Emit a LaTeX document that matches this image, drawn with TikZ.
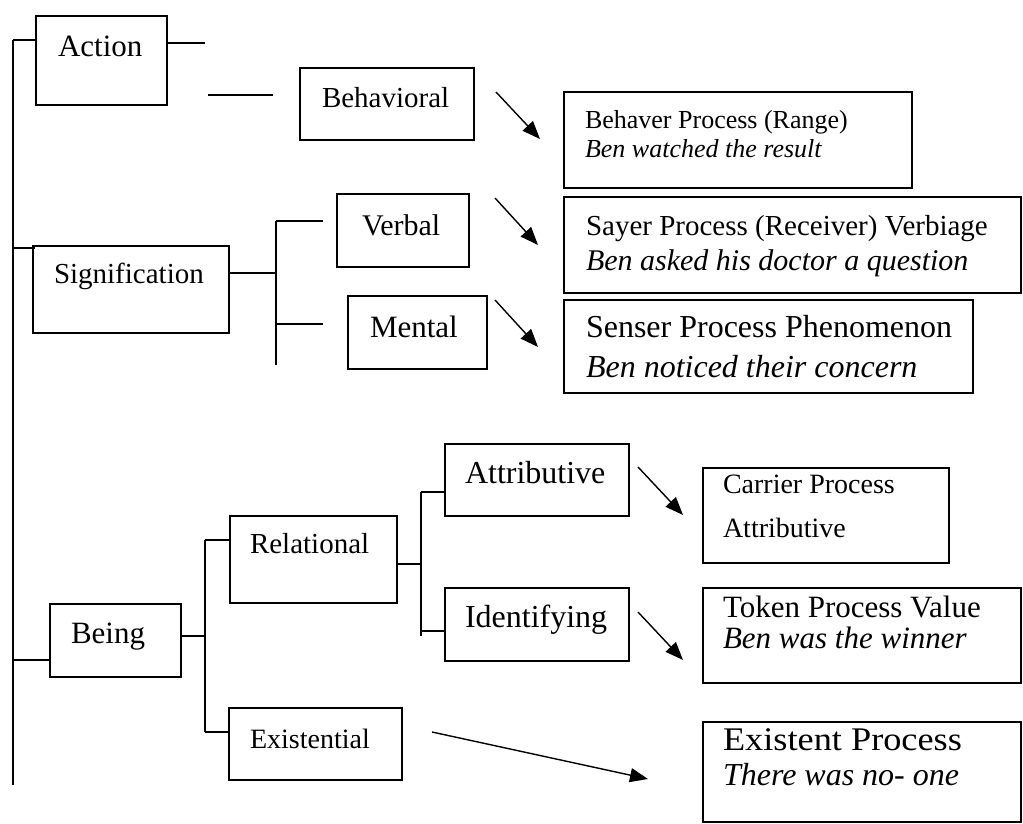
\documentclass[tikz,border=0pt]{standalone}
\usepackage{fontspec}
\setmainfont{Liberation Serif}
\usetikzlibrary{arrows.meta,fit}

\tikzset{
  box/.style={draw, line width=1.3pt, inner sep=0pt, outer sep=0pt},
  lbl/.style={anchor=base west, inner sep=0pt, outer sep=0pt},
  link/.style={line width=1.3pt},
  pointer/.style={line width=1.4pt, -{Triangle[length=18pt,width=14pt]}},
}
% a framed box from its top-left to its bottom-right corner
\newcommand\procbox[5]{\node[box, fit={(#2,#3) (#4,#5)}] (#1) {};}
\newcommand\fs[1]{\fontsize{#1}{#1}\selectfont}

\begin{document}
\begin{tikzpicture}[x=1pt, y=-1pt]
\useasboundingbox (0,0) rectangle (1023,824);
\clip (0,0) rectangle (1023,824);

% ---- boxes
\procbox{action}{36}{16}{167}{105}
\procbox{behavioral}{300}{68}{474}{140}
\procbox{behaver}{564}{92}{912}{188}
\procbox{verbal}{337}{194}{469}{267}
\procbox{sayer}{564}{197}{1021}{293}
\procbox{signif}{33}{246}{229}{333}
\procbox{mental}{348}{296}{487}{369}
\procbox{senser}{564}{300}{973}{393}
\procbox{attrib}{445}{444}{629}{516}
\procbox{carrier}{703}{468}{949}{563}
\procbox{relational}{230}{516}{397}{603}
\procbox{ident}{445}{588}{629}{661}
\procbox{token}{703}{588}{1021}{683}
\procbox{being}{50}{604}{181}{677}
\procbox{existential}{229}{708}{402}{780}
\procbox{existent}{703}{722}{1021}{822}

% ---- texts
\node[lbl, font=\fs{31}] (actionT) at (58,57) {Action};
\node[lbl, font=\fs{29}] (behavioralT) at (322,108) {Behavioral};
\node[lbl, font=\fs{26}] (behaverT) at (585,129) {Behaver Process (Range)};
\node[lbl, font=\fs{26}\itshape] (behaverE) at (585,158) {Ben watched the result};
\node[lbl, font=\fs{30}] (verbalT) at (362,235) {Verbal};
\node[lbl, font=\fs{29}] (sayerT) at (586,235) {Sayer Process (Receiver) Verbiage};
\node[lbl, font=\fs{30}\itshape] (sayerE) at (586,270) {Ben asked his doctor a question};
\node[lbl, font=\fs{29}] (signifT) at (54,283) {Signification};
\node[lbl, font=\fs{31}] (mentalT) at (370,337) {Mental};
\node[lbl, font=\fs{32}] (senserT) at (586,337) {Senser Process Phenomenon};
\node[lbl, font=\fs{32}\itshape] (senserE) at (586,377) {Ben noticed their concern};
\node[lbl, font=\fs{32}] (attribT) at (465,483) {Attributive};
\node[lbl, font=\fs{28}] (carrierT) at (723,493) {Carrier Process};
\node[lbl, font=\fs{28}] (carrierE) at (723,537) {Attributive};
\node[lbl, font=\fs{29}] (relationalT) at (250,553) {Relational};
\node[lbl, font=\fs{32}] (identT) at (465,627) {Identifying};
\node[lbl, font=\fs{31}] (tokenT) at (723,617) {Token Process Value};
\node[lbl, font=\fs{31}\itshape] (tokenE) at (723,648) {Ben was the winner};
\node[lbl, font=\fs{31}] (beingT) at (71,643) {Being};
\node[lbl, font=\fs{28}] (existentialT) at (250,748) {Existential};
\node[lbl, font=\fs{33}, xscale=1.1] (existentT) at (723,750) {Existent Process};
\node[lbl, font=\fs{32}\itshape] (existentE) at (723,785) {There was no- one};

% ---- tree lines
\coordinate (trunkTop) at (13,40);
\coordinate (trunkEnd) at (13,785);
\draw[link] (trunkTop) -- (trunkEnd);
\draw[link] (trunkTop) -- (trunkTop -| action.west);
\coordinate (tieSig) at (13,248);
\draw[link] (tieSig) -- ([xshift=2pt]tieSig -| signif.west);
\coordinate (tieBeing) at (13,660);
\draw[link] (tieBeing) -- (tieBeing -| being.west);

\coordinate (stubA) at (205,43);
\draw[link] (stubA -| action.east) -- (stubA);
\coordinate (stubB1) at (208,95);
\coordinate (stubB2) at (273,95);
\draw[link] (stubB1) -- (stubB2);

% signification branch
\coordinate (sigFork) at (276,273);
\coordinate (sigTop) at (276,221);
\coordinate (sigBot) at (276,365);
\coordinate (sigV) at (323,221);
\coordinate (sigM) at (323,324);
\draw[link] (sigFork -| signif.east) -- (sigFork);
\draw[link] (sigTop) -- (sigBot);
\draw[link] (sigTop) -- (sigV);
\draw[link] (sigTop |- sigM) -- (sigM);

% being branch
\coordinate (beFork) at (205,636);
\coordinate (beTop) at (205,540);
\coordinate (beBot) at (205,732);
\draw[link] (beFork -| being.east) -- (beFork);
\draw[link] (beTop) -- (beBot);
\draw[link] (beTop) -- (beTop -| relational.west);
\draw[link] (beBot) -- (beBot -| existential.west);

% relational branch
\coordinate (relFork) at (421,564);
\coordinate (relTop) at (421,492);
\coordinate (relBot) at (421,636);
\coordinate (relId) at (421,631);
\draw[link] (relFork -| relational.east) -- (relFork);
\draw[link] (relTop) -- (relBot);
\draw[link] (relTop) -- (relTop -| attrib.west);
\draw[link] (relId) -- (relId -| ident.west);

% ---- pointers to the example boxes
\coordinate (p1a) at (496,92);  \coordinate (p1b) at (540,139);
\coordinate (p2a) at (495,198); \coordinate (p2b) at (538,245);
\coordinate (p3a) at (495,300); \coordinate (p3b) at (538,347);
\coordinate (p4a) at (638,467); \coordinate (p4b) at (683,515);
\coordinate (p5a) at (638,612); \coordinate (p5b) at (683,660);
\coordinate (p6a) at (432,732); \coordinate (p6b) at (648,779);
\draw[pointer] (p1a) -- (p1b);
\draw[pointer] (p2a) -- (p2b);
\draw[pointer] (p3a) -- (p3b);
\draw[pointer] (p4a) -- (p4b);
\draw[pointer] (p5a) -- (p5b);
\draw[pointer] (p6a) -- (p6b);
\end{tikzpicture}
\end{document}
